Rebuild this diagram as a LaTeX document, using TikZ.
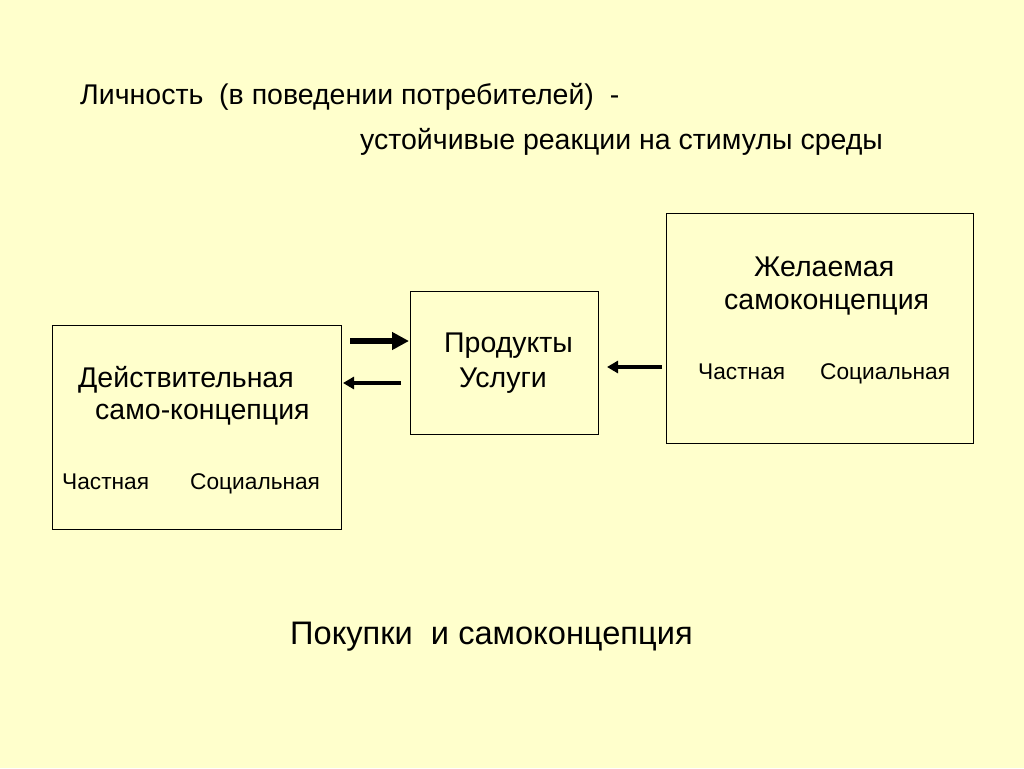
\documentclass[tikz,border=0pt]{standalone}
\usepackage{fontspec}
\setmainfont{Liberation Sans}
\usetikzlibrary{arrows.meta}
\definecolor{bg}{HTML}{FFFFCC}
\begin{document}
\begin{tikzpicture}[x=1pt,y=-1pt,
  box/.style={draw=black,line width=0.8pt,fill=bg},
  txt/.style={anchor=base west,inner sep=0pt,font=\fontsize{28.5}{34}\selectfont},
  small/.style={anchor=base west,inner sep=0pt,font=\fontsize{22.7}{27}\selectfont},
  big/.style={anchor=base west,inner sep=0pt,font=\fontsize{32.6}{40}\selectfont},
  arr/.style={-{Triangle[length=17pt,width=17pt]},line width=6pt},
  arrthin/.style={-{Triangle[length=11pt,width=12pt]},line width=4pt}]
\fill[bg] (0,0) rectangle (1024,768);
\useasboundingbox (0,0) rectangle (1024,768);
% boxes
\draw[box] (52,325) rectangle (341,529);
\draw[box] (410,291) rectangle (598,434);
\draw[box] (666,213) rectangle (973,443);
% title
\node[txt] (t1) at (80,104) {Личность\ \ (в поведении потребителей)\ \ -};
\node[txt] (t2) at (360,149) {устойчивые реакции на стимулы среды};
% left box text
\node[txt] (l1) at (78,387) {Действительная};
\node[txt] (l2) at (95,419) {само-концепция};
\node[small] (l3) at (62,489) {Частная};
\node[small] (l4) at (190,489) {Социальная};
% middle
\node[txt] (m1) at (444,352) {Продукты};
\node[txt] (m2) at (459,387) {Услуги};
% right
\node[txt] (r1) at (754,276) {Желаемая};
\node[txt] (r2) at (724,309) {самоконцепция};
\node[small] (r3) at (698,379) {Частная};
\node[small] (r4) at (820,379) {Социальная};
% bottom
\node[big] (b) at (290,644) {Покупки\ \ и самоконцепция};
% arrows
\coordinate (a1s) at (350,341);
\coordinate (a1e) at (409,341);
\draw[arr] (a1s) -- (a1e);
\coordinate (a2s) at (401,383);
\coordinate (a2e) at (343,383);
\draw[arrthin] (a2s) -- (a2e);
\coordinate (a3s) at (662,367);
\coordinate (a3e) at (607,367);
\draw[arrthin] (a3s) -- (a3e);
\end{tikzpicture}
\end{document}
